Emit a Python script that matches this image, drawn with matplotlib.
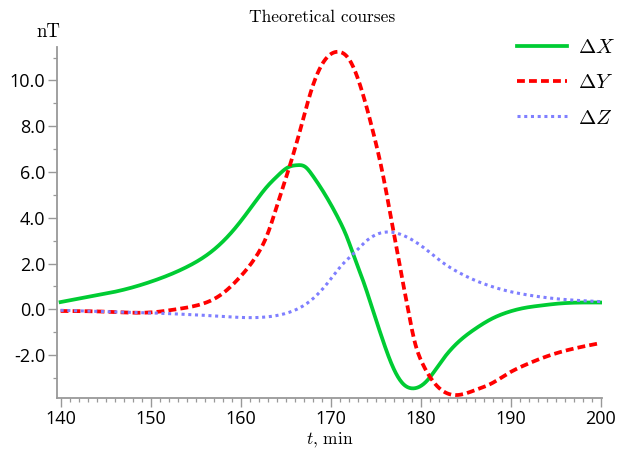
import numpy as np
import matplotlib
matplotlib.use("Agg")
import matplotlib.pyplot as plt
from matplotlib.ticker import MultipleLocator, FuncFormatter

plt.rcParams['mathtext.fontset'] = 'cm'

# readings (t in min, values in nT)
t_x = [140, 143, 146.7, 150.4, 154, 157, 159.5, 161.7, 163.0, 164.1, 165.2, 166.3, 167.2, 167.9,
       168.9, 170.0, 170.9, 171.8, 172.7, 173.6, 174.7, 175.8, 176.9, 178.0, 179.1, 180.6, 182.4,
       184.2, 186.1, 187.9, 189.7, 191.6, 193.4, 195.2, 200]
dX = [0.32, 0.54, 0.83, 1.26, 1.85, 2.6, 3.6, 4.74, 5.39, 5.83, 6.19, 6.30, 6.22, 5.9,
      5.32, 4.6, 3.94, 3.17, 2.2, 1.26, -0.04, -1.35, -2.5, -3.23, -3.45, -3.16, -2.22,
      -1.42, -0.84, -0.41, -0.12, 0.07, 0.17, 0.25, 0.3]

t_y = [140, 145, 150.4, 152.6, 155.1, 157.7, 159.9, 161.7, 163.0, 164.1, 165.6, 166.7, 167.8,
       168.9, 170.7, 172.2, 173.6, 174.7, 175.8, 176.5, 177.2, 177.9, 178.6, 179.3, 180.2, 181.3,
       182.8, 184.1, 186.1, 187.9, 189.7, 191.6, 193.4, 195.2, 198.7, 200]
dY = [-0.07, -0.1, -0.12, -0.01, 0.17, 0.61, 1.4, 2.3, 3.3, 4.6, 6.45, 7.95, 9.5,
      10.6, 11.25, 10.83, 9.38, 7.78, 5.9, 4.45, 2.95, 1.45, 0.0, -1.35, -2.36, -3.1,
      -3.64, -3.74, -3.52, -3.23, -2.8, -2.43, -2.14, -1.9, -1.57, -1.47]

t_z = [140, 145, 150.4, 154, 157.7, 161.4, 163.5, 165.6, 167.8, 169.6, 171.4, 172.5, 174.0, 176.5,
       177.6, 179.5, 180.6, 182.4, 184.2, 186.1, 187.9, 189.7, 191.6, 195.2, 200]
dZ = [-0.04, -0.1, -0.16, -0.22, -0.3, -0.36, -0.3, -0.1, 0.39, 1.12, 2.0, 2.42, 3.0, 3.38,
      3.3, 2.93, 2.62, 2.06, 1.62, 1.26, 1.0, 0.8, 0.65, 0.46, 0.34]


def spline(t, v, n=800):
    # natural cubic spline through the read points, used only to draw them smoothly
    t = np.asarray(t, float)
    v = np.asarray(v, float)
    k = len(t)
    h = np.diff(t)
    A = np.zeros((k, k))
    b = np.zeros(k)
    A[0, 0] = A[-1, -1] = 1
    for i in range(1, k - 1):
        A[i, i - 1] = h[i - 1]
        A[i, i] = 2 * (h[i - 1] + h[i])
        A[i, i + 1] = h[i]
        b[i] = 3 * ((v[i + 1] - v[i]) / h[i] - (v[i] - v[i - 1]) / h[i - 1])
    c = np.linalg.solve(A, b)
    bb = (v[1:] - v[:-1]) / h - h * (2 * c[:-1] + c[1:]) / 3
    d = (c[1:] - c[:-1]) / (3 * h)
    tt = np.linspace(t[0], t[-1], n)
    j = np.clip(np.searchsorted(t, tt) - 1, 0, k - 2)
    s = tt - t[j]
    return tt, v[j] + bb[j] * s + c[j] * s**2 + d[j] * s**3


fig = plt.figure(figsize=(6.17, 4.49), dpi=100)
ax = fig.add_axes([0.0924, 0.1136, 0.884, 0.7817])

ax.plot(*spline(t_x, dX), color='#00cc33', lw=2.7, linestyle='-', label=r'$\Delta X$')
ax.plot(*spline(t_y, dY), color='#ff0000', lw=2.7, linestyle=(0, (2.1, 1.1)), label=r'$\Delta Y$')
ax.plot(*spline(t_z, dZ), color='#7f7fff', lw=2.2, linestyle=(0, (1, 1.2)), label=r'$\Delta Z$')

ax.set_xlim(139.6, 200.2)
ax.set_ylim(-3.87, 11.46)
for s in ['top', 'right']:
    ax.spines[s].set_visible(False)
for s in ['left', 'bottom']:
    ax.spines[s].set_color('#999999')
    ax.spines[s].set_linewidth(1.3)

ax.xaxis.set_major_locator(MultipleLocator(10))
ax.xaxis.set_minor_locator(MultipleLocator(1))
ax.yaxis.set_major_locator(MultipleLocator(2))
ax.yaxis.set_minor_locator(MultipleLocator(1))
ax.yaxis.set_major_formatter(FuncFormatter(lambda v, p: '%.1f' % v))
ax.tick_params(which='major', length=6.5, width=1, color='#999999', labelsize=13)
ax.tick_params(axis='x', which='major', pad=2.5)
ax.tick_params(axis='y', which='major', pad=2)
ax.tick_params(which='minor', length=3, width=0.9, color='#999999')
for lab in ax.get_xticklabels() + ax.get_yticklabels():
    lab.set_family('Open Sans')

fig.text(0.522, 0.962, 'Theoretical courses', family='cmr10', fontsize=12.5, ha='center', va='center')
ax.text(-0.016, 1.044, 'nT', family='cmr10', fontsize=13.5, ha='center', va='center', transform=ax.transAxes)
fig.text(0.535, 0.022, r'$t$, min', family='cmr10', fontsize=12.5, ha='center', va='center')

ax.legend(loc='upper left', bbox_to_anchor=(0.843, 1.028), frameon=False, fontsize=15,
          handlelength=2.4, labelspacing=0.73, handletextpad=0.55, borderpad=0, borderaxespad=0)

fig.savefig('out.png', dpi=100)
